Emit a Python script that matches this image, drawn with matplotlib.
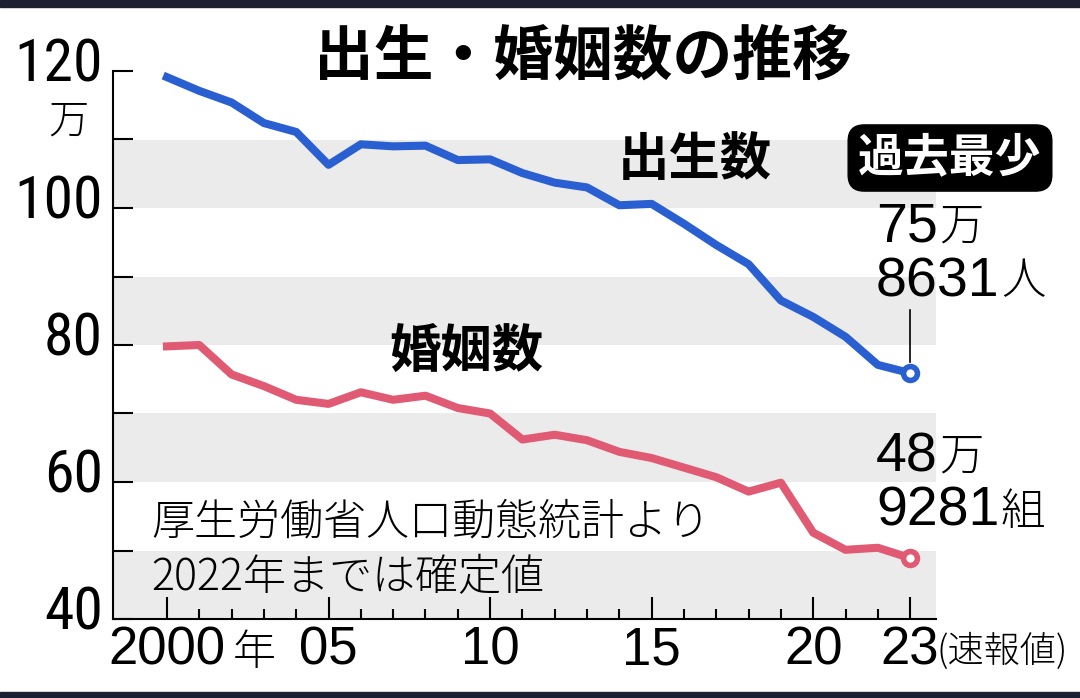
import matplotlib
matplotlib.use("Agg")
import matplotlib.pyplot as plt
import matplotlib.transforms as mtransforms
from matplotlib import font_manager
from matplotlib.patches import Rectangle

years = list(range(2000, 2024))
births = [119.1, 117.1, 115.4, 112.4, 111.1, 106.3, 109.3, 109.0, 109.1, 107.0,
          107.1, 105.1, 103.7, 103.0, 100.4, 100.6, 97.7, 94.6, 91.8, 86.5,
          84.1, 81.2, 77.1, 75.9]
marriages = [79.8, 80.0, 75.7, 74.0, 72.0, 71.4, 73.1, 72.0, 72.6, 70.8,
             70.0, 66.2, 66.9, 66.1, 64.4, 63.5, 62.1, 60.7, 58.6, 59.9,
             52.6, 50.1, 50.4, 48.9]

x_ticks = [2000, 2005, 2010, 2015, 2020, 2023]
x_labels = ['2000', '05', '10', '15', '20', '23']
y_ticks = [40, 60, 80, 100, 120]
bands = [(40, 50), (60, 70), (80, 90), (100, 110)]

BLUE = '#2a5fd2'
PINK = '#e15a73'
CJK = 'Noto Sans CJK JP'

installed = {f.name for f in font_manager.fontManager.ttflist}
num_font = 'Liberation Sans' if 'Liberation Sans' in installed else 'DejaVu Sans'
narrow_font, narrow_size = num_font, 40
for name in ['Liberation Sans Narrow', 'Roboto Condensed', 'Noto Sans Condensed',
             'Open Sans Condensed', 'Arial Narrow']:
    if name in installed:
        narrow_font, narrow_size = name, 43
        break

plt.rcParams['font.family'] = [CJK, 'DejaVu Sans']

W, H = 1080, 698
fig = plt.figure(figsize=(W / 100, H / 100), dpi=100)
fig.patch.set_facecolor('white')


def px(x, y):
    return x / W, 1 - y / H


# dark strips at top and bottom of the screenshot
fig.patches.append(Rectangle((0, 1 - 7 / H), 1, 7 / H, transform=fig.transFigure,
                             color='#1b2130', zorder=0))
fig.patches.append(Rectangle((0, 0), 1, 6 / H, transform=fig.transFigure,
                             color='#1b2130', zorder=0))

ax = fig.add_axes([113 / W, 1 - 619 / H, (936 - 113) / W, (619 - 71) / H])
ax.set_xlim(1998.33, 2023.8)
ax.set_ylim(40, 120)

for lo, hi in bands:
    ax.axhspan(lo, hi, color='#ebebeb', lw=0, zorder=0)

ax.plot(years, births, color=BLUE, lw=5.8, solid_joinstyle='round', zorder=3)
ax.plot(years, marriages, color=PINK, lw=5.8, solid_joinstyle='round', zorder=3)
ax.plot(years[-1], births[-1], 'o', ms=10, mfc='white', mec=BLUE, mew=4, zorder=4)
ax.plot(years[-1], marriages[-1], 'o', ms=10, mfc='white', mec=PINK, mew=4, zorder=4)

# leader line from the latest birth value up to its label
ax.plot([years[-1], years[-1]], [births[-1] + 1.6, births[-1] + 9.2],
        color='black', lw=1.2, zorder=2)

for side in ['top', 'right']:
    ax.spines[side].set_visible(False)
for side in ['left', 'bottom']:
    ax.spines[side].set_linewidth(1.5)
    ax.spines[side].set_color('black')

ax.set_yticks(y_ticks, labels=[])
ax.set_yticks([50, 70, 90, 110], minor=True)
ax.tick_params(axis='y', which='both', direction='in', length=14.5, width=1.5)
# y labels sit a little above their ticks, as in the print original
ylab_trans = ax.get_yaxis_transform() + mtransforms.ScaledTranslation(
    -10 / 100, 6 / 100, fig.dpi_scale_trans)
for v in y_ticks:
    ax.text(0, v, str(v), transform=ylab_trans, fontsize=narrow_size,
            family=narrow_font, ha='right', va='center', clip_on=False)

ax.set_xticks(x_ticks, labels=x_labels)
ax.set_xticks(years, minor=True)
ax.tick_params(axis='x', which='major', direction='in', length=16, width=1.5,
               pad=5, labelsize=38)
ax.tick_params(axis='x', which='minor', direction='in', length=7, width=1.5)
for lab in ax.get_xticklabels():
    lab.set_family(num_font)

# title and series names
fig.text(*px(583, 58), '出生・婚姻数の推移', fontsize=43, fontweight='bold',
         ha='center', va='center')
fig.text(*px(695, 160), '出生数', fontsize=37, fontweight='bold', ha='center', va='center')
fig.text(*px(466, 352), '婚姻数', fontsize=37, fontweight='bold', ha='center', va='center')

fig.text(*px(950, 158), '過去最少', fontsize=33, fontweight='bold', color='white',
         ha='center', va='center',
         bbox=dict(boxstyle='round,pad=0.22,rounding_size=0.35', fc='black', ec='black'))


def value_label(x, y, digits, unit):
    t = fig.text(*px(x, y), digits, fontsize=40, family=num_font, ha='left', va='center')
    ax.annotate(unit, xy=(1, 0.5), xycoords=t, xytext=(1, 0), textcoords='offset points',
                fontsize=32, fontweight='light', ha='left', va='center',
                annotation_clip=False)


value_label(876, 227, '75', '万')
value_label(876, 282, '8631', '人')
value_label(876, 457, '48', '万')
value_label(876, 512, '9281', '組')

# y unit and x extras
fig.text(*px(68, 122), '万', fontsize=29, fontweight='light', ha='center', va='center')
fig.text(*px(233, 653), '年', fontsize=31, fontweight='light', ha='left', va='center')
fig.text(*px(936, 652), '(速報値)', fontsize=26, fontweight='light', ha='left', va='center')

# source note
fig.text(*px(151, 522), '厚生労働省人口動態統計より', fontsize=31, fontweight='light',
         ha='left', va='center')
fig.text(*px(151, 578), '2022年までは確定値', fontsize=31, fontweight='light',
         ha='left', va='center')

fig.savefig('out.png', dpi=100, facecolor=fig.get_facecolor())
